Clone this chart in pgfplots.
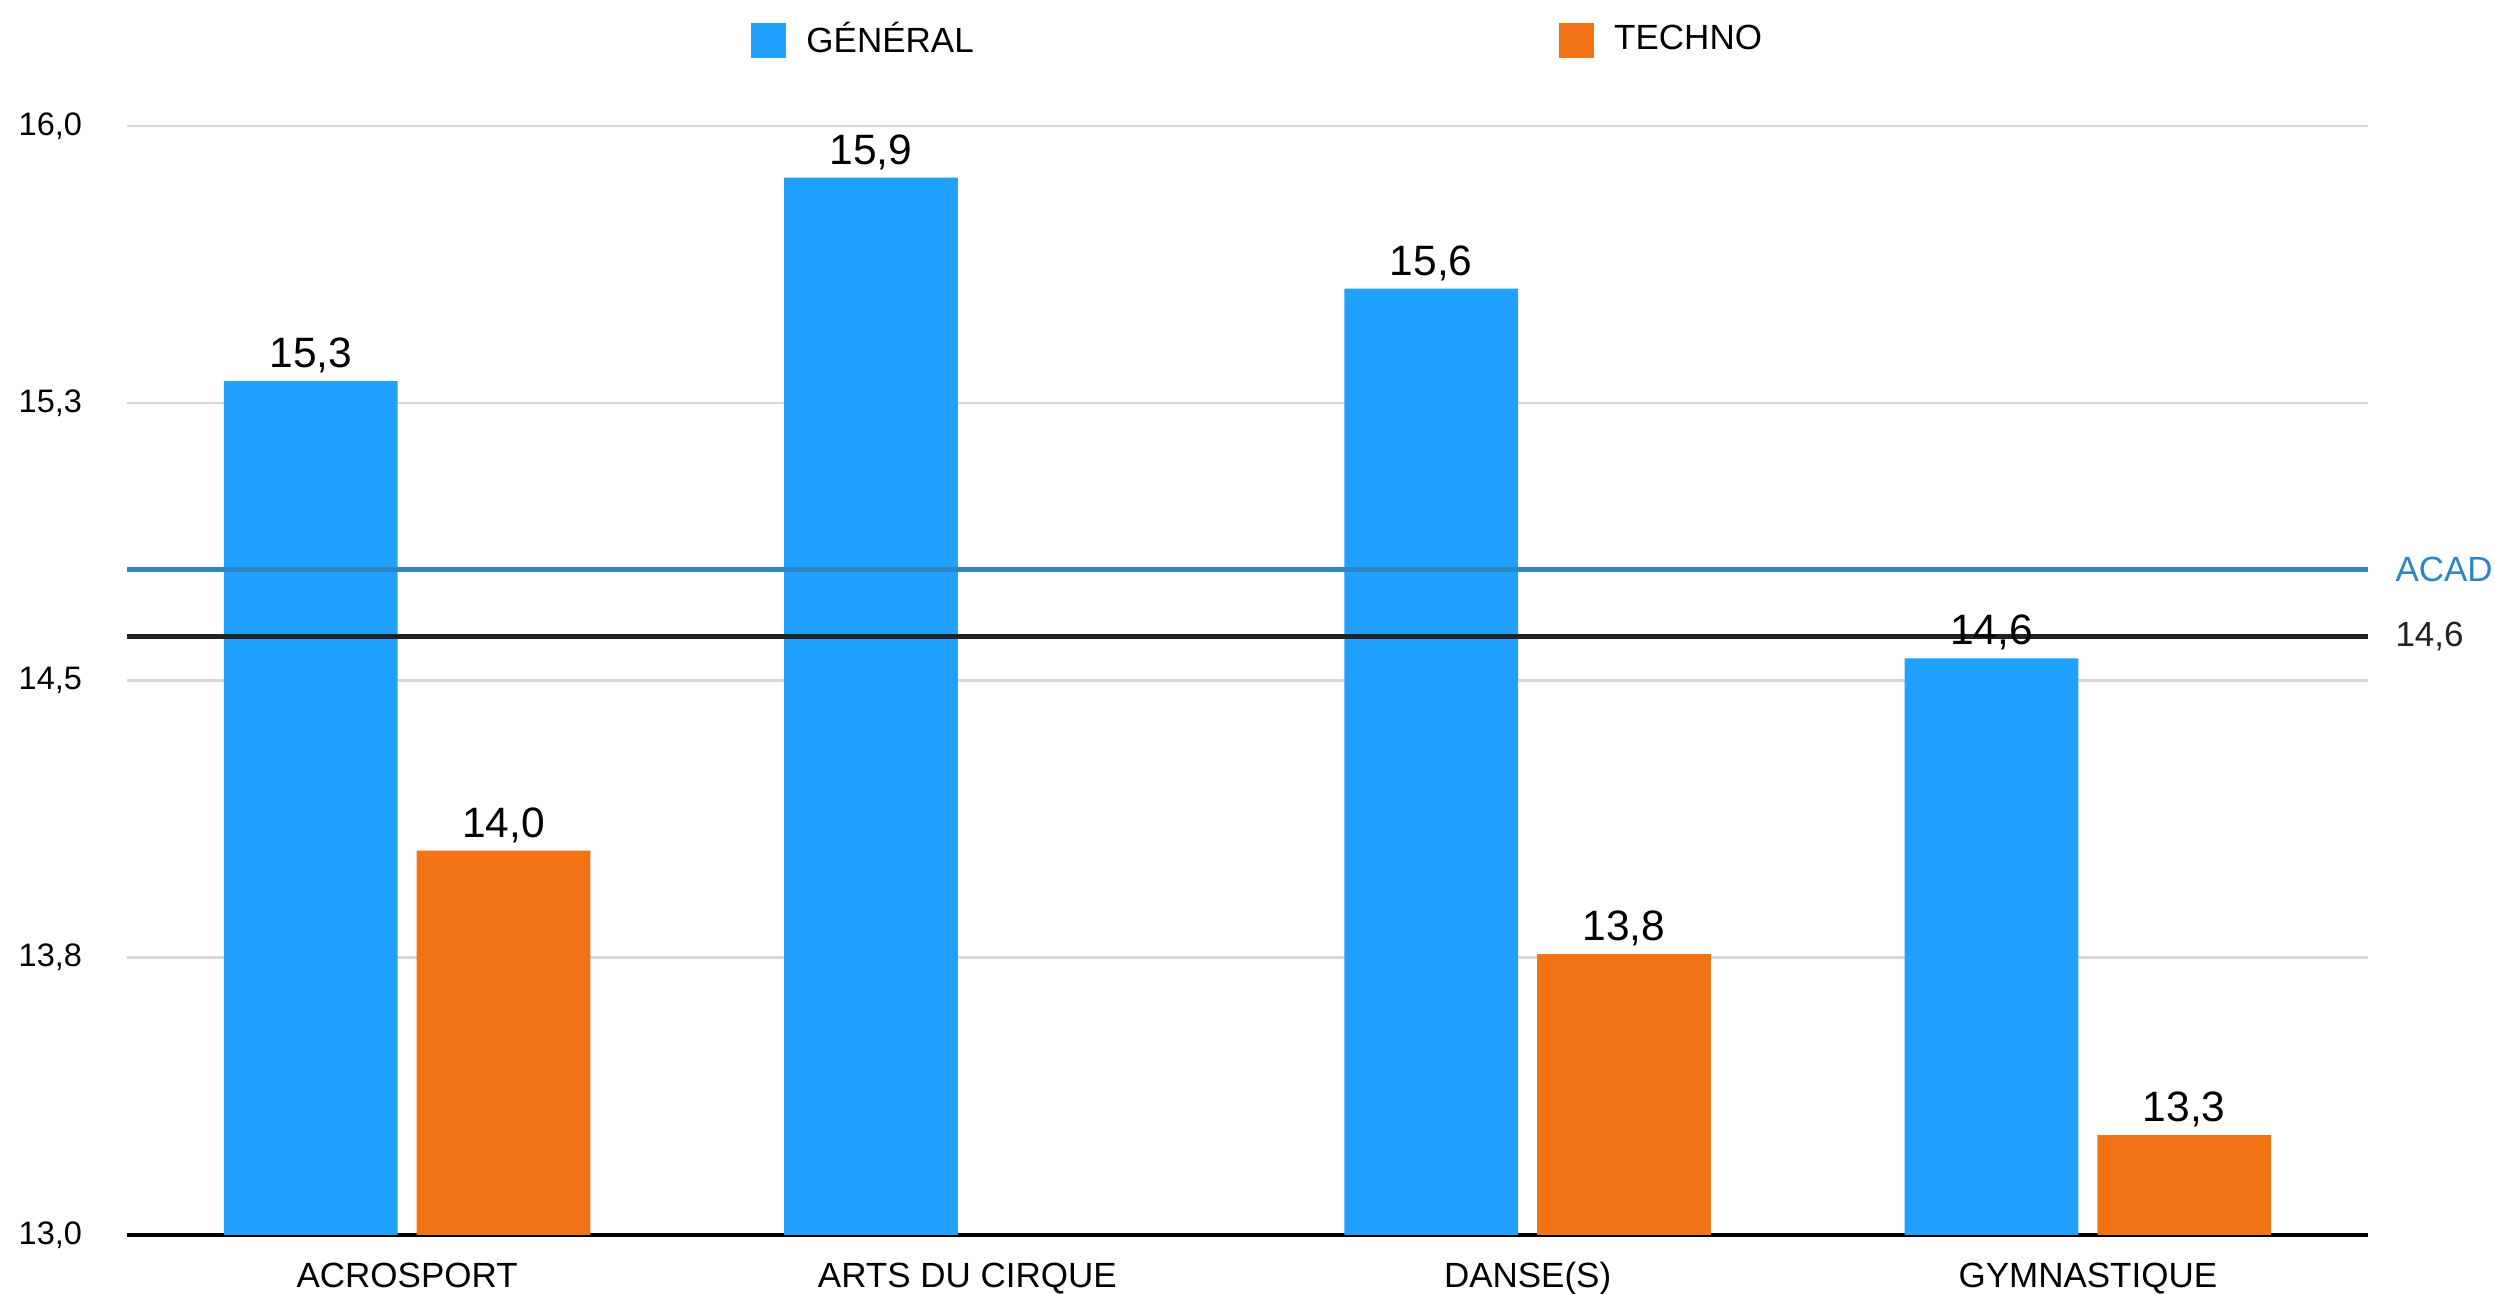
\documentclass[border=0pt]{standalone}
\usepackage{fontspec}
\setmainfont{Liberation Sans}
\usepackage{pgfplots}
\pgfplotsset{compat=1.18}
\definecolor{cgen}{HTML}{20A1FF}
\definecolor{ctech}{HTML}{F27316}
\definecolor{cacad}{HTML}{2A86C8}
\definecolor{cgrid}{HTML}{D9D9D9}
\definecolor{cline}{HTML}{222222}
\begin{document}
\begin{tikzpicture}
\begin{axis}[
  scale only axis, width=448.2pt, height=221.8pt,
  xmin=-0.5, xmax=3.5, ymin=13, ymax=16,
  clip=false,
  axis x line*=bottom, axis y line*=left,
  x axis line style={draw=black, line width=0.7pt, -},
  y axis line style={draw=none},
  tick style={draw=none},
  ymajorgrids, grid style={cgrid, line width=0.5pt},
  ytick={13,13.75,14.5,15.25,16},
  yticklabels={{13,0},{13,8},{14,5},{15,3},{16,0}},
  yticklabel style={font=\fontsize{6.5}{7}\selectfont, anchor=east, inner sep=0pt, xshift=-8.8pt},
  xtick={0,1,2,3},
  xticklabels={ACROSPORT, ARTS DU CIRQUE, DANSE(S), GYMNASTIQUE},
  xticklabel style={font=\fontsize{7}{8}\selectfont, anchor=base, inner sep=0pt, yshift=-10.5pt},
  legend columns=2,
  legend style={draw=none, at={(0.5,1)}, anchor=center, yshift=17pt, xshift=1.8pt,
    font=\fontsize{7}{8}\selectfont, inner sep=0pt, nodes={inner sep=0pt},
    /tikz/every even column/.append style={column sep=117pt}},
  nodes near coords={\pgfmathprintnumber[use comma,fixed,fixed zerofill,precision=1,assume math mode=true]{\pgfplotspointmeta}},
  every node near coord/.append style={font=\fontsize{8.5}{10}\selectfont, anchor=base, inner sep=0pt, yshift=2.7pt, black},
]
\addplot[ybar, bar width=0.31, bar shift=0, fill=cgen, draw=none,
  legend image code/.code={\fill[cgen] (0pt,-3.5pt) rectangle (7pt,3.5pt); \path (11.1pt,0pt);}]
  coordinates {(-0.172,15.31) (0.828,15.86) (1.828,15.56) (2.828,14.56)};
\addlegendentry{GÉNÉRAL}
\addplot[ybar, bar width=0.31, bar shift=0, fill=ctech, draw=none,
  legend image code/.code={\fill[ctech] (0pt,-3.5pt) rectangle (7pt,3.5pt); \path (11.1pt,0pt);}]
  coordinates {(0.172,14.04) (2.172,13.76) (3.172,13.27)};
\addlegendentry{TECHNO}
\addplot[cacad, line width=1pt, forget plot, nodes near coords={}] coordinates {(-0.5,14.80) (3.5,14.80)}
  node[pos=1, anchor=west, xshift=5pt, inner sep=0pt, font=\fontsize{7}{8}\selectfont, text=cacad] {ACAD};
\addplot[cline, line width=1pt, forget plot, nodes near coords={}] coordinates {(-0.5,14.62) (3.5,14.62)}
  node[pos=1, anchor=west, xshift=5pt, inner sep=0pt, font=\fontsize{7}{8}\selectfont, text=cline] {14,6};
\end{axis}
\pgfresetboundingbox
\path[use as bounding box] (current axis.south west) ++(-25.4pt,-11.8pt) rectangle ([xshift=25.4pt,yshift=25.2pt]current axis.north east);
\end{tikzpicture}
\end{document}
